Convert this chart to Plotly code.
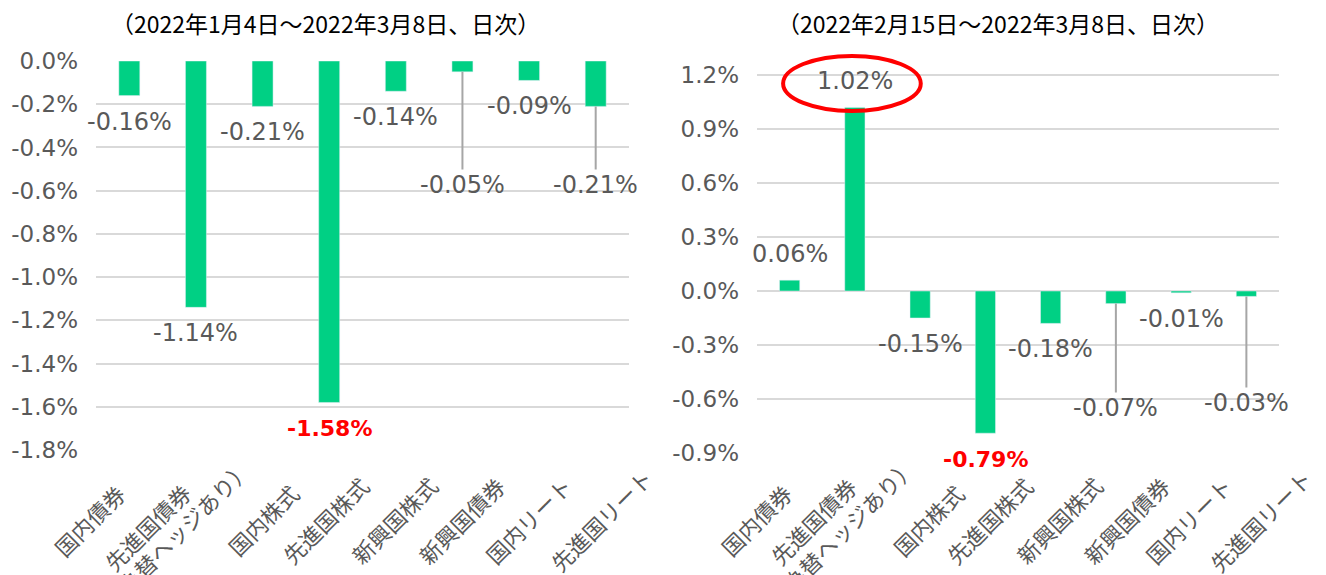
import plotly.graph_objects as go

categories = ["国内債券", "先進国債券<br>（為替ヘッジあり）", "国内株式", "先進国株式",
              "新興国株式", "新興国債券", "国内リート", "先進国リート"]
left_values = [-0.16, -1.14, -0.21, -1.58, -0.14, -0.05, -0.09, -0.21]
right_values = [0.06, 1.02, -0.15, -0.79, -0.18, -0.07, -0.01, -0.03]
left_title = "（2022年1月4日～2022年3月8日、日次）"
right_title = "（2022年2月15日～2022年3月8日、日次）"
left_ticks = [0.0, -0.2, -0.4, -0.6, -0.8, -1.0, -1.2, -1.4, -1.6, -1.8]
right_ticks = [1.2, 0.9, 0.6, 0.3, 0.0, -0.3, -0.6, -0.9]
# labels drawn away from the bar with a leader line: index -> label y value
left_leaders = {5: -0.574, 7: -0.574}
right_leaders = {5: -0.65, 7: -0.622}
left_highlight = 3
right_highlight = 3
right_circled = 1

# layout / style
BAR = "#00D084"
GRID = "#D9D9D9"
TXT = "#595959"
CJK = "Noto Sans CJK JP"
NUM = "DejaVu Sans"
W, H = 1326, 575
# per-line (x shift px, centre y px) for the rotated category labels
left_label_pos = [[(-40, 520)], [(-49, 527), (-20, 534)], [(0, 520)], [(-4, 520)],
                  [(-2, 520)], [(-1, 520)], [(-1, 520)], [(5, 520)]]
right_label_pos = [[(-34, 520)], [(-42, 521), (-14, 532)], [(8, 520)], [(4, 520)],
                   [(8, 520)], [(10, 520)], [(7, 520)], [(14, 520)]]
RIGHT_PX_PER_UNIT = (453 - 75) / 2.1
RIGHT_TOP_PAD = 40  # extra room above 1.2% for the highlight ellipse

def px2x(px):
    return px / W

def py2y(py):
    return 1 - py / H

fig = go.Figure()
fig.add_trace(go.Bar(x=list(range(len(categories))), y=left_values, marker_color=BAR,
                     xaxis="x", yaxis="y", width=0.315, showlegend=False, hoverinfo="skip"))
fig.add_trace(go.Bar(x=list(range(len(categories))), y=right_values, marker_color=BAR,
                     xaxis="x2", yaxis="y2", width=0.31, showlegend=False, hoverinfo="skip"))

annotations = []

def add_labels(values, xref, yref, leaders, highlight):
    for i, v in enumerate(values):
        txt = f"{v:.2f}%"
        if i == highlight:
            font = dict(size=22, color="#FF0000", family=NUM)
            txt = f"<b>{txt}</b>"
        else:
            font = dict(size=24, color=TXT, family=NUM)
        if i in leaders:
            annotations.append(dict(x=i, y=v, xref=xref, yref=yref, text=txt,
                                    showarrow=True, arrowhead=0, arrowwidth=2,
                                    arrowcolor="#A6A6A6", ax=i, ay=leaders[i],
                                    axref=xref, ayref=yref, standoff=0, font=font))
        else:
            annotations.append(dict(x=i, y=v, xref=xref, yref=yref, text=txt,
                                    showarrow=False, yshift=26 if v >= 0 else -26,
                                    font=font))

def add_cat_labels(xref, positions):
    for i, c in enumerate(categories):
        for line, (dx, py) in zip(c.split("<br>"), positions[i]):
            annotations.append(dict(x=i, y=py2y(py), xref=xref, yref="paper",
                                    text=line, showarrow=False, textangle=-45,
                                    xanchor="center", yanchor="middle", xshift=dx,
                                    font=dict(size=22, color=TXT, family=CJK)))

add_labels(left_values, "x", "y", left_leaders, left_highlight)
add_labels(right_values, "x2", "y2", right_leaders, right_highlight)
add_cat_labels("x", left_label_pos)
add_cat_labels("x2", right_label_pos)

annotations.append(dict(x=px2x(325), y=py2y(23), xref="paper", yref="paper", text=left_title,
                        showarrow=False, xanchor="center", yanchor="middle",
                        font=dict(size=23, color="#000000", family=CJK)))
annotations.append(dict(x=px2x(998), y=py2y(23), xref="paper", yref="paper", text=right_title,
                        showarrow=False, xanchor="center", yanchor="middle",
                        font=dict(size=23, color="#000000", family=CJK)))

cv = right_values[right_circled]
shapes = [dict(type="circle", xref="x2", yref="y2",
               x0=right_circled - 1.1, x1=right_circled + 1.01,
               y0=cv - 0.02, y1=cv + 0.286, line=dict(color="#FF0000", width=4))]

axis_common = dict(showline=False, zeroline=False, ticks="", automargin=False)
fig.update_layout(
    width=W, height=H,
    margin=dict(l=0, r=0, t=0, b=0),
    paper_bgcolor="white", plot_bgcolor="white",
    font=dict(family=NUM, color=TXT),
    xaxis=dict(domain=[px2x(96), px2x(629)], range=[-0.5, 7.5], showgrid=False,
               showticklabels=False, anchor="y", **axis_common),
    yaxis=dict(domain=[py2y(450), py2y(61)], range=[-1.8, 0], tickvals=left_ticks,
               ticktext=[f"{t:.1f}%" for t in left_ticks], gridcolor=GRID, gridwidth=1.5,
               tickfont=dict(size=23, color=TXT, family=NUM), ticklabelstandoff=17,
               anchor="x", **axis_common),
    xaxis2=dict(domain=[px2x(757), px2x(1279)], range=[-0.5, 7.5], showgrid=False,
                showticklabels=False, anchor="y2", **axis_common),
    yaxis2=dict(domain=[py2y(453), py2y(75 - RIGHT_TOP_PAD)],
                range=[-0.9, 1.2 + RIGHT_TOP_PAD / RIGHT_PX_PER_UNIT], tickvals=right_ticks,
                ticktext=[f"{t:.1f}%" for t in right_ticks], gridcolor=GRID, gridwidth=1.5,
                tickfont=dict(size=23, color=TXT, family=NUM), ticklabelstandoff=17,
                anchor="x2", **axis_common),
    annotations=annotations,
    shapes=shapes,
)
fig.update_traces(cliponaxis=False)
fig.write_html("out.html", config={"displayModeBar": False},
               post_script="document.body.style.margin='0';document.body.style.overflow='hidden';")
